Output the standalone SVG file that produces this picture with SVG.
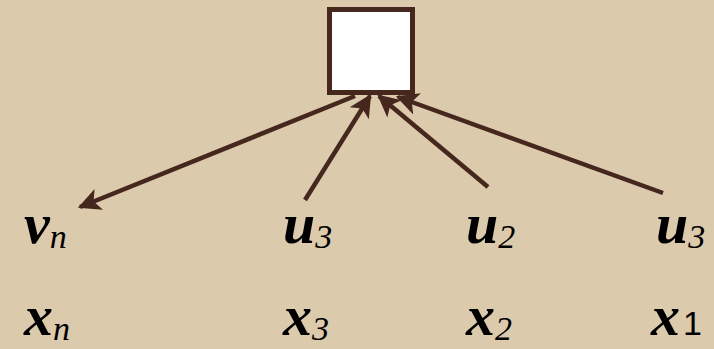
<svg xmlns="http://www.w3.org/2000/svg" width="714" height="349" viewBox="0 0 714 349">
<style>
.bg{fill:#dccaad}
.box{fill:#ffffff;stroke:#45271e;stroke-width:5}
.edge{stroke:#45271e;stroke-width:4.5;fill:none;marker-end:url(#ah)}
.t{font-family:'Liberation Serif','DejaVu Serif',serif;font-style:italic;font-weight:bold;fill:#000}
.m{font-size:58px}
.s{font-size:34px;font-weight:normal}
.r{font-family:'Liberation Sans',sans-serif;font-style:normal;font-weight:normal;font-size:34px}
</style>
<defs>
<marker id="ah" viewBox="0 0 10 10" refX="9" refY="5" markerWidth="6" markerHeight="5" orient="auto" markerUnits="strokeWidth">
<path d="M0,0 L10,5 L0,10 L2.5,5 Z" fill="#45271e"/>
</marker>
</defs>
<rect class="bg" x="0" y="0" width="714" height="349"/>
<g id="node-box"><rect class="box" x="329.5" y="9.5" width="83" height="83"/></g>
<g id="connectors">
<line class="edge" x1="355" y1="96" x2="80" y2="207"/>
<line class="edge" x1="305" y1="200" x2="370" y2="96"/>
<line class="edge" x1="488" y1="187" x2="379" y2="96"/>
<line class="edge" x1="663" y1="193" x2="398" y2="97"/>
</g>
<g id="node-vn"><text class="t" x="24" y="243"><tspan class="m">v</tspan><tspan class="s" dy="5">n</tspan></text></g>
<g id="node-u3a"><text class="t" x="283" y="243"><tspan class="m">u</tspan><tspan class="s" dy="5">3</tspan></text></g>
<g id="node-u2"><text class="t" x="466" y="243"><tspan class="m">u</tspan><tspan class="s" dy="5">2</tspan></text></g>
<g id="node-u3b"><text class="t" x="656" y="243"><tspan class="m">u</tspan><tspan class="s" dy="5">3</tspan></text></g>
<g id="node-xn"><text class="t" x="24" y="335"><tspan class="m">x</tspan><tspan class="s" dy="5">n</tspan></text></g>
<g id="node-x3"><text class="t" x="283" y="335"><tspan class="m">x</tspan><tspan class="s" dy="5">3</tspan></text></g>
<g id="node-x2"><text class="t" x="466" y="335"><tspan class="m">x</tspan><tspan class="s" dy="5">2</tspan></text></g>
<g id="node-x1"><text class="t" x="651" y="335"><tspan class="m">x</tspan><tspan class="r" dx="3">1</tspan></text></g>
</svg>
